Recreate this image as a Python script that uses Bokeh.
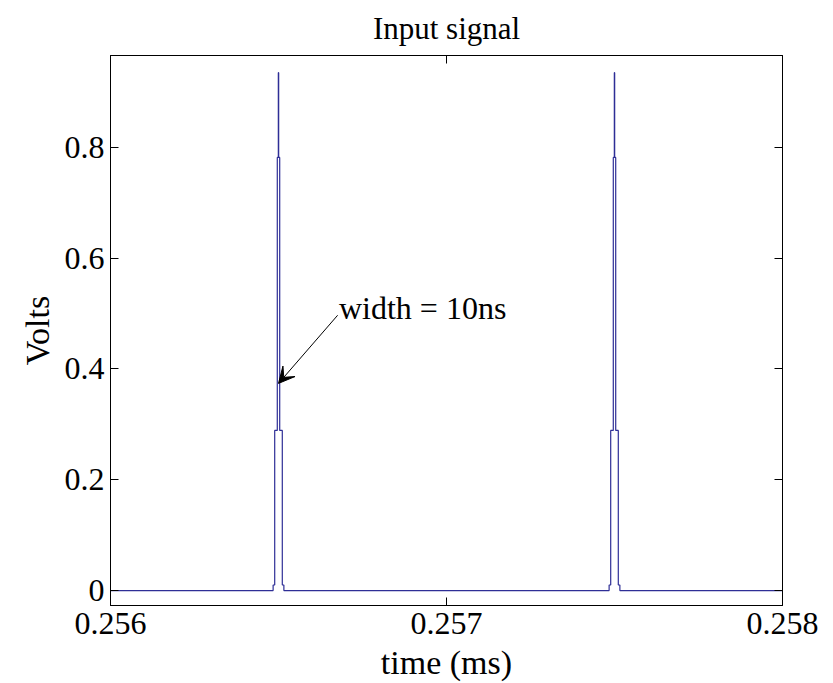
from bokeh.plotting import figure
from bokeh.models import Range1d, LinearAxis, Arrow, VeeHead, Label, FixedTicker
from bokeh.embed import file_html
from bokeh.resources import INLINE

# ---- data ----
title_text = "Input signal"
x_label = "time (ms)"
y_label = "Volts"
x_ticks = [0.256, 0.257, 0.258]
x_tick_labels = ["0.256", "0.257", "0.258"]
y_ticks = [0.0, 0.2, 0.4, 0.6, 0.8]
y_tick_labels = ["0", "0.2", "0.4", "0.6", "0.8"]
t_start, t_end = 0.256, 0.258
pulse_centers_ms = [0.2565, 0.2575]
pulse_edges_ns = [-16, -11.3, -3.6, -0.5, 0.5, 3.6, 11.3, 16]
pulse_levels_v = [0.01, 0.289, 0.782, 0.935, 0.782, 0.289, 0.01, 0.0]
annotation_text = "width = 10ns"
annotation_xy = (0.25668, 0.511)
arrow_tail = (0.256676, 0.497)
arrow_tip = (0.2565, 0.374)

FONT = "Liberation Serif"

# build the staircase signal
xs = [t_start]
ys = [0.0]
for c in pulse_centers_ms:
    for e, lv in zip(pulse_edges_ns, pulse_levels_v):
        xs.append(c + e * 1e-6)
        ys.append(lv)
xs.append(t_end)
ys.append(0.0)

p = figure(width=833, height=683, output_backend="svg", toolbar_location=None,
           x_range=Range1d(t_start, t_end), y_range=Range1d(-0.027, 0.966),
           min_border_left=110, min_border_right=51, min_border_top=55,
           min_border_bottom=78, x_axis_location=None, y_axis_location=None)
p.background_fill_color = "white"
p.border_fill_color = "white"
p.outline_line_color = "black"
p.outline_line_width = 1
p.xgrid.visible = False
p.ygrid.visible = False

p.title.text = title_text
p.title.text_font = FONT
p.title.text_font_size = "31px"
p.title.text_font_style = "normal"
p.title.align = "center"
p.title.text_color = "black"
p.title.vertical_align = "top"
p.title.standoff = 15

def style_axis(ax, labels, show):
    ax.axis_line_color = "black"
    ax.major_tick_in = 8
    ax.major_tick_out = 0
    ax.minor_tick_line_color = None
    ax.major_tick_line_color = "black"
    ax.major_label_text_font = FONT
    ax.major_label_text_color = "black"
    if show:
        ax.major_label_text_font_size = "32px"
        ax.major_label_overrides = labels
    else:
        ax.major_label_text_font_size = "0px"
        ax.major_label_overrides = {k: "" for k in labels}
    ax.axis_label_text_font = FONT
    ax.axis_label_text_font_style = "normal"
    ax.axis_label_text_font_size = "34px"
    ax.axis_label_text_color = "black"

xlab = dict(zip(x_ticks, x_tick_labels))
ylab = dict(zip(y_ticks, y_tick_labels))

xb = LinearAxis(ticker=FixedTicker(ticks=x_ticks), axis_label=x_label)
style_axis(xb, xlab, True)
xb.major_label_standoff = 7
xb.axis_label_standoff = 7
p.add_layout(xb, "below")

xa = LinearAxis(ticker=FixedTicker(ticks=x_ticks))
style_axis(xa, xlab, False)
xa.major_label_standoff = 0
p.add_layout(xa, "above")

yl = LinearAxis(ticker=FixedTicker(ticks=y_ticks), axis_label=y_label)
style_axis(yl, ylab, True)
yl.major_label_standoff = 6
yl.axis_label_standoff = 6
p.add_layout(yl, "left")

yr = LinearAxis(ticker=FixedTicker(ticks=y_ticks))
style_axis(yr, ylab, False)
p.add_layout(yr, "right")

p.step(xs, ys, mode="after", line_color="#2e2e96", line_width=1.2)

p.add_layout(Arrow(x_start=arrow_tail[0], y_start=arrow_tail[1],
                   x_end=arrow_tip[0], y_end=arrow_tip[1],
                   line_color="black", line_width=1,
                   end=VeeHead(size=16, fill_color="black", line_color="black")))
p.add_layout(Label(x=annotation_xy[0], y=annotation_xy[1], text=annotation_text,
                   text_font=FONT, text_font_size="32px", text_color="black",
                   text_baseline="alphabetic", text_align="left"))

open("out.html", "w").write(file_html(p, INLINE))
